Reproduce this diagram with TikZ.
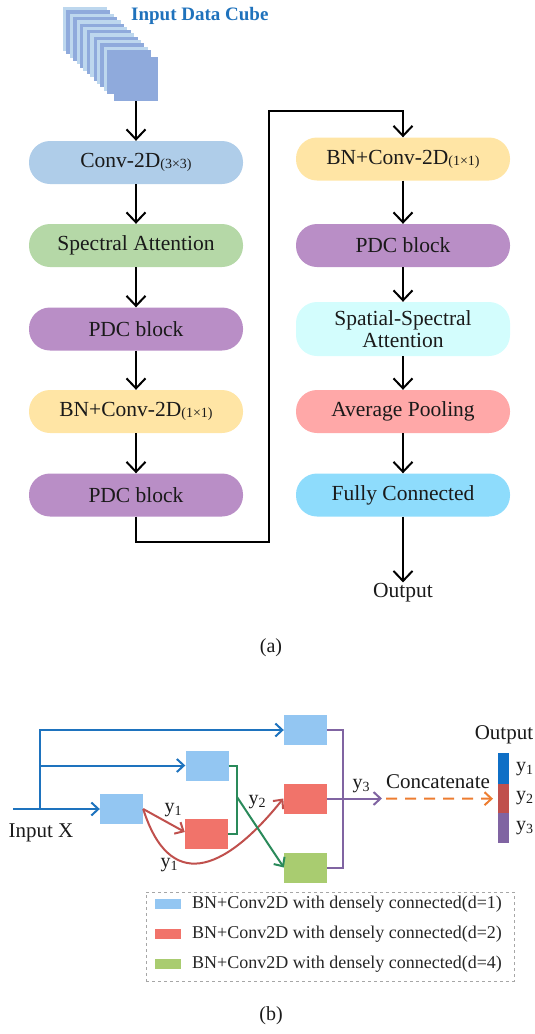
\documentclass[tikz,border=0pt]{standalone}
\usepackage{fontspec}
\setmainfont{Liberation Serif}
\usetikzlibrary{arrows.meta}
\definecolor{cConv}{HTML}{AFCDE9}
\definecolor{cSpec}{HTML}{B5D8A7}
\definecolor{cPDC}{HTML}{B98EC6}
\definecolor{cBN}{HTML}{FFE5A5}
\definecolor{cSSA}{HTML}{D3FDFD}
\definecolor{cAvg}{HTML}{FFA8A8}
\definecolor{cFC}{HTML}{8EDCFC}
\definecolor{sliceL}{HTML}{BDD7EE}
\definecolor{sliceD}{HTML}{8FAADC}
\definecolor{cubeTitle}{HTML}{1F72BC}
\definecolor{bBox}{HTML}{93C6F2}
\definecolor{rBox}{HTML}{F1736A}
\definecolor{gBox}{HTML}{A9CC70}
\definecolor{lBlue}{HTML}{1E73BE}
\definecolor{lRed}{HTML}{C0504D}
\definecolor{lGreen}{HTML}{2A8A5A}
\definecolor{lPurple}{HTML}{8064A2}
\definecolor{lOrange}{HTML}{ED7D31}
\definecolor{barBlue}{HTML}{0F6FC6}
\definecolor{txt}{HTML}{1A1A1A}
\definecolor{legTxt}{HTML}{262626}
\newcommand\smallsub[1]{\raisebox{-1pt}{\fontsize{14}{14}\selectfont #1}}
\newcommand\ylab[1]{y\raisebox{-3pt}{\fontsize{14}{14}\selectfont #1}}
\begin{document}
\begin{tikzpicture}[x=1pt,y=-1pt,
  blk/.style={rounded corners=21pt, minimum width=214pt, minimum height=43pt, inner sep=0pt,
    font=\fontsize{21.5}{24}\selectfont, text=txt, align=center},
  arr/.style={line width=2pt, -{Straight Barb[length=10pt,width=19pt]}},
  lab/.style={font=\fontsize{21.5}{24}\selectfont, text=txt, inner sep=0pt},
  sbox/.style={minimum width=43pt, minimum height=30pt, inner sep=0pt},
  barr/.style={line width=2pt, -{Straight Barb[length=7pt,width=13pt]}},
  pline/.style={line width=2pt, draw=lPurple},
  ylb/.style={font=\fontsize{20}{22}\selectfont, text=txt, inner sep=0pt},
  legtext/.style={font=\fontsize{18}{20}\selectfont, text=legTxt, anchor=west, inner sep=0pt},
  swatch/.style={minimum width=26pt, minimum height=10pt, inner sep=0pt},
  barseg/.style={minimum width=11pt, inner sep=0pt, anchor=north west}
]
\useasboundingbox (0,0) rectangle (535,1034);

% ---------- (a) ----------
\foreach \i in {0,...,13}{
  \pgfmathtruncatemacro{\parity}{mod(\i,2)}
  \ifnum\parity=0 \def\sc{sliceL}\else\def\sc{sliceD}\fi
  \fill[\sc] ({63+3.4*\i},{7+3.3*\i}) rectangle ++(44,44);
}
\node[fill=sliceD, minimum size=44pt, inner sep=0pt] (cube) at (136,79) {};
\node[font=\bfseries\fontsize{19}{22}\selectfont, text=cubeTitle, anchor=west, inner sep=0pt] (title) at (131,16) {Input Data Cube};

\node[blk, fill=cConv] (conv) at (136,162.5) {Conv-2D\smallsub{(3×3)}};
\node[blk, fill=cSpec] (spec) at (136,245.5) {Spectral Attention};
\node[blk, fill=cPDC] (pdc1) at (136,329) {PDC block};
\node[blk, fill=cBN] (bn1) at (136,411.5) {BN+Conv-2D\smallsub{(1×1)}};
\node[blk, fill=cPDC] (pdc2) at (136,495) {PDC block};

\node[blk, fill=cBN] (bn2) at (403,159) {BN+Conv-2D\smallsub{(1×1)}};
\node[blk, fill=cPDC] (pdc3) at (403,245.5) {PDC block};
\node[blk, fill=cSSA, minimum height=54pt, font=\fontsize{21.5}{22.5}\selectfont] (ssa) at (403,329) {Spatial-Spectral\\Attention};
\node[blk, fill=cAvg] (avg) at (403,411.5) {Average Pooling};
\node[blk, fill=cFC] (fc) at (403,495) {Fully Connected};
\node[lab] (out) at (403,593) {Output};
\node[lab, font=\fontsize{20}{22}\selectfont] (capa) at (271,648) {(a)};

\draw[arr] (cube.south) -- (conv.north);
\draw[arr] (conv.south) -- (spec.north);
\draw[arr] (spec.south) -- (pdc1.north);
\draw[arr] (pdc1.south) -- (bn1.north);
\draw[arr] (bn1.south) -- (pdc2.north);
\coordinate (t1) at (269,542);
\coordinate (t2) at (269,111);
\draw[arr] (pdc2.south) |- (t1) -- (t2) -| (bn2.north);
\draw[arr] (bn2.south) -- (pdc3.north);
\draw[arr] (pdc3.south) -- (ssa.north);
\draw[arr] (ssa.south) -- (avg.north);
\draw[arr] (avg.south) -- (fc.north);
\draw[arr] (fc.south) -- ([yshift=1pt]out.north);

% ---------- (b) ----------
\node[sbox, fill=bBox] (b1) at (121.5,809) {};
\node[sbox, fill=bBox] (b2) at (207,765.5) {};
\node[sbox, fill=bBox] (b3) at (305.5,730) {};
\node[sbox, fill=rBox] (rA) at (206.5,834) {};
\node[sbox, fill=rBox] (rB) at (305,798.5) {};
\node[sbox, fill=gBox] (g) at (305.5,867.5) {};

\coordinate (inX) at (13,809);
\coordinate (sp) at (40,809);
\node[ylb, font=\fontsize{21}{22}\selectfont] (inlab) at (41,833) {Input X};
\draw[barr, draw=lBlue] (inX) -- (b1.west);
\draw[barr, draw=lBlue] (sp) |- (b3.west);
\draw[barr, draw=lBlue] (sp |- b2.west) -- (b2.west);

\draw[barr, draw=lRed] (b1.east) -- ([yshift=2pt]rA.west);
\draw[barr, draw=lRed] (b1.east) .. controls +(26,82) and +(-61,76) .. (rB.west);

\coordinate (gj) at (237,797);
\draw[line width=2pt, draw=lGreen] (b2.east) -| (gj) |- (rA.east);
\draw[barr, draw=lGreen] (gj) -- (g.west);

\coordinate (pj) at (343,798.5);
\coordinate (pEnd) at (382,798.5);
\draw[pline] (b3.east) -| (pj) |- (g.east);
\draw[barr, draw=lPurple] (rB.east) -- (pEnd);

\node[ylb] (y1a) at (173,810) {\ylab{1}};
\node[ylb] (y1b) at (169,865) {\ylab{1}};
\node[ylb] (y2a) at (257,802) {\ylab{2}};
\node[ylb] (y3a) at (361,786) {\ylab{3}};

\node[ylb, font=\fontsize{21}{22}\selectfont] (concat) at (438,782) {Concatenate};
\node[barseg, fill=barBlue, minimum height=31pt] (bar1) at (498,753) {};
\node[barseg, fill=lRed, minimum height=29pt] (bar2) at (498,784) {};
\node[barseg, fill=lPurple, minimum height=30pt] (bar3) at (498,813) {};
\coordinate (oStart) at (386,798.5);
\draw[line width=2pt, draw=lOrange, dash pattern=on 11pt off 8pt, -{Straight Barb[length=7pt,width=13pt]}] (oStart) -- ([xshift=-5pt]bar2.west);
\node[ylb, font=\fontsize{21}{22}\selectfont] (outb) at (504,735) {Output};
\node[ylb, anchor=west] (l1) at (516,769) {\ylab{1}};
\node[ylb, anchor=west] (l2) at (516,798) {\ylab{2}};
\node[ylb, anchor=west] (l3) at (516,828) {\ylab{3}};

% legend
\node[draw=black!35, dashed, line width=0.8pt, minimum width=368pt, minimum height=89pt, inner sep=0pt] (legend) at (330,936.5) {};
\node[swatch, fill=bBox] (s1) at (168,904) {};
\node[swatch, fill=rBox] (s2) at (168,934) {};
\node[swatch, fill=gBox] (s3) at (168,964) {};
\node[legtext] (t1l) at (192,904) {BN+Conv2D with densely connected(d=1)};
\node[legtext] (t2l) at (192,934) {BN+Conv2D with densely connected(d=2)};
\node[legtext] (t3l) at (192,964) {BN+Conv2D with densely connected(d=4)};

\node[lab, font=\fontsize{20}{22}\selectfont] (capb) at (271,1016) {(b)};
\end{tikzpicture}
\end{document}
